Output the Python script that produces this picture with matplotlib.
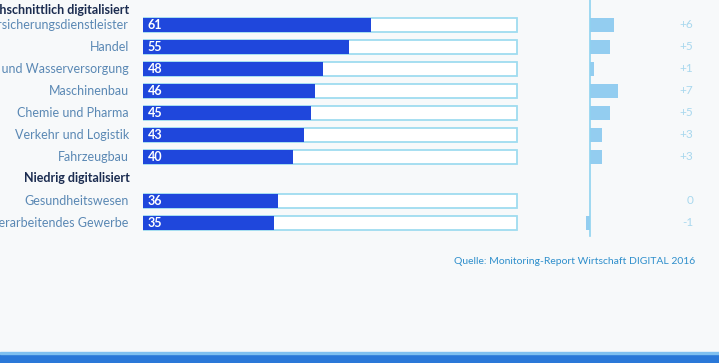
import matplotlib.pyplot as plt
from matplotlib.patches import Rectangle
import numpy as np

plt.rcParams['font.family'] = ['Lato', 'DejaVu Sans']

# rows (top to bottom); None value means group header
labels = ['Durchschnittlich digitalisiert', 'Versicherungsdienstleister', 'Handel',
          'Energie- und Wasserversorgung', 'Maschinenbau', 'Chemie und Pharma',
          'Verkehr und Logistik', 'Fahrzeugbau', 'Niedrig digitalisiert',
          'Gesundheitswesen', 'Verarbeitendes Gewerbe']
index = [None, 61, 55, 48, 46, 45, 43, 40, None, 36, 35]
change = [None, 6, 5, 1, 7, 5, 3, 3, None, 0, -1]
change_txt = [None, '+6', '+5', '+1', '+7', '+5', '+3', '+3', None, '0', '-1']
source = 'Quelle: Monitoring-Report Wirtschaft DIGITAL 2016'

W, H = 719, 363
fig = plt.figure(figsize=(W / 100, H / 100), dpi=100)
fig.patch.set_facecolor('#f7f9fa')

bar_col = '#1f47dc'
box_col = '#9fdcf0'
lab_col = '#5a88b4'
head_col = '#1b2c50'

# row r sits at pixel 25 + (r-1)*22
ylim = (1 + (H - 25) / 22, 1 - 25 / 22)

ax = fig.add_axes([143 / W, 0, (521 - 143) / W, 1])
ax.set_xlim(0, 101)
ax.set_ylim(*ylim)
ax.axis('off')

ax2 = fig.add_axes([560 / W, 0, (W - 560) / W, 1])
ax2.set_xlim(-30 / 4, (W - 590) / 4)
ax2.set_ylim(*ylim)
ax2.axis('off')

for r, (lab, v, c, ct) in enumerate(zip(labels, index, change, change_txt)):
    if v is None:
        ax.text(-3.6, 0.3 if r == 0 else r - 0.05, lab, ha='right', va='center',
                fontsize=9, fontweight='bold', color=head_col, clip_on=False)
        continue
    ax.barh(r, 100, height=0.62, left=0, facecolor='white', edgecolor=box_col, lw=1.3)
    ax.barh(r, v, height=0.66, color=bar_col)
    ax.text(1.2, r, str(v), ha='left', va='center', fontsize=9, fontweight='bold', color='white')
    ax.text(-3.8, r, lab, ha='right', va='center', fontsize=9, color=lab_col, clip_on=False)
    if c != 0:
        ax2.barh(r, c, height=0.62, color='#93cdf0')
    ax2.text(25.8, r, ct, ha='right', va='center', fontsize=8.5, color='#a9d8ee')

ax2.plot([0, 0], [ylim[1], 10.6], color='#8fd3f0', lw=1.2)

fig.text(695 / W, 1 - 262 / H, source, ha='right', va='center', fontsize=7.5, color='#2f8fcc')

# blue band at the bottom of the slide
fig.patches.append(Rectangle((0, 0), 1, 9 / H, transform=fig.transFigure, color='#2a78d8'))
fig.patches.append(Rectangle((0, 9 / H), 1, 2 / H, transform=fig.transFigure, color='#7fc0f0'))

fig.savefig('out.png', dpi=100, facecolor=fig.get_facecolor())
